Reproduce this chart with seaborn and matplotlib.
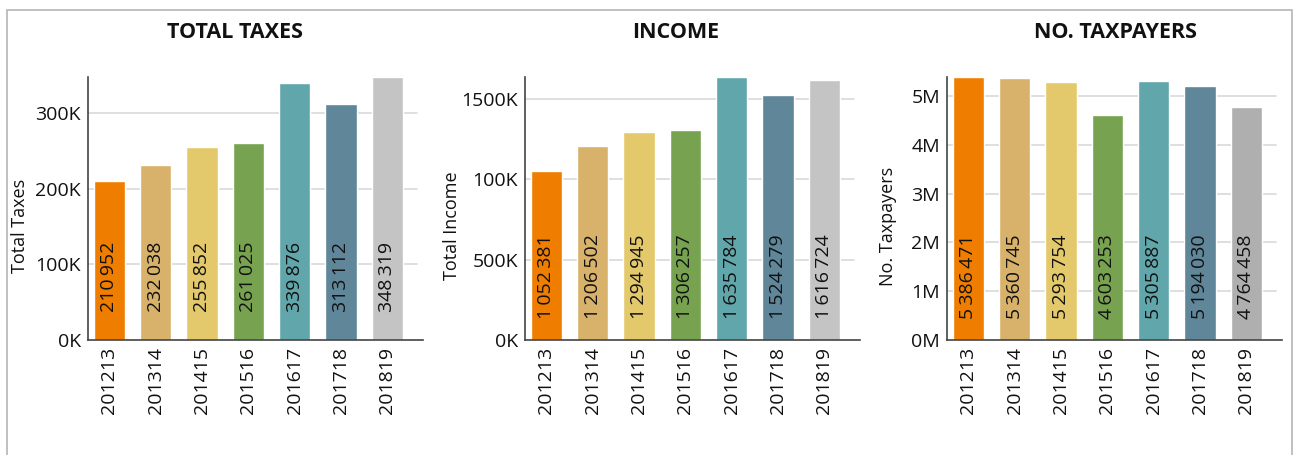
import matplotlib
matplotlib.use("Agg")
import matplotlib.pyplot as plt
import matplotlib.transforms as mtransforms
from matplotlib.patches import Rectangle
import seaborn as sns
import pandas as pd

# Fiscal years and the three indicators per year
years = ["201213", "201314", "201415", "201516", "201617", "201718", "201819"]
total_taxes = [210952, 232038, 255852, 261025, 339876, 313112, 348319]
total_income = [1052381, 1206502, 1294945, 1306257, 1635784, 1524279, 1616724]
no_taxpayers = [5386471, 5360745, 5293754, 4603253, 5305887, 5194030, 4764458]

palette_main = ["#EE7D00", "#D8B26A", "#E3C96B", "#77A24F", "#61A6AB", "#5F8699", "#C4C4C4"]
palette_tp = ["#EE7D00", "#D8B26A", "#E3C96B", "#77A24F", "#61A6AB", "#5F8699", "#AFAFAF"]

taxes_ticks = [0, 100000, 200000, 300000]
taxes_ticklabels = ["0K", "100K", "200K", "300K"]
income_ticks = [0, 500000, 1000000, 1500000]
income_ticklabels = ["0K", "500K", "100K", "1500K"]
tp_ticks = [0, 1000000, 2000000, 3000000, 4000000, 5000000]
tp_ticklabels = ["0M", "1M", "2M", "3M", "4M", "5M"]

sns.set_theme(style="white")
plt.rcParams["font.family"] = ["Open Sans", "DejaVu Sans"]

W, H = 1298, 455
fig = plt.figure(figsize=(W / 100, H / 100), dpi=100)

# outer frame
fig.patches.append(Rectangle((7 / W, -0.05), (1292 - 7) / W, 1.05 - 10 / H,
                             transform=fig.transFigure, fill=False,
                             edgecolor="#B5B5B5", linewidth=1.2))


def fmt(v):
    return f"{v:,}".replace(",", "\u2009")


panels = [
    dict(left=88, title="TOTAL TAXES", tx=235, ylabel="Total Taxes", ylx=20,
         values=total_taxes, ticks=taxes_ticks, labels=taxes_ticklabels, pal=palette_main),
    dict(left=525, title="INCOME", tx=676, ylabel="Total Income", ylx=452,
         values=total_income, ticks=income_ticks, labels=income_ticklabels, pal=palette_main),
    dict(left=947, title="NO. TAXPAYERS", tx=1115, ylabel="No. Taxpayers", ylx=888,
         values=no_taxpayers, ticks=tp_ticks, labels=tp_ticklabels, pal=palette_tp),
]

top, bottom = 77, 340
for p in panels:
    ax = fig.add_axes([p["left"] / W, 1 - bottom / H, 335 / W, (bottom - top) / H])
    df = pd.DataFrame({"year": years, "value": p["values"]})
    sns.barplot(data=df, x="year", y="value", hue="year", palette=p["pal"],
                legend=False, width=0.67, saturation=1, ax=ax)
    ax.set_xlim(-0.46, 6.77)
    ax.set_ylim(0, max(p["values"]))
    ax.set_yticks(p["ticks"])
    ax.set_yticklabels(p["labels"], fontsize=14, color="#111111")
    ax.set_xticks(range(len(years)))
    ax.set_xticklabels(years, rotation=90, fontsize=14, color="#111111")
    ax.tick_params(axis="both", length=0, pad=5)
    ax.set_xlabel("")
    ax.set_ylabel("")
    for y in p["ticks"][1:]:
        ax.plot([-0.46, 6.65], [y, y], color="#D9D9D9", lw=1.2, zorder=0)
    ax.set_axisbelow(True)
    for s in ["top", "right"]:
        ax.spines[s].set_visible(False)
    for s in ["left", "bottom"]:
        ax.spines[s].set_color("#444444")
        ax.spines[s].set_linewidth(1.2)
    trans = mtransforms.blended_transform_factory(ax.transData, ax.transAxes)
    for i, v in enumerate(p["values"]):
        ax.text(i, 0.24, fmt(v), rotation=90, ha="center", va="center",
                fontsize=14, color="#111111", transform=trans)
    fig.text(p["tx"] / W, 1 - 32 / H, p["title"], ha="center", va="center",
             fontsize=15.5, fontweight="bold", color="#111111")
    fig.text(p["ylx"] / W, 1 - 226 / H, p["ylabel"], ha="center", va="center",
             rotation=90, fontsize=13, color="#111111")

fig.savefig("out.png", dpi=100, facecolor="white")
